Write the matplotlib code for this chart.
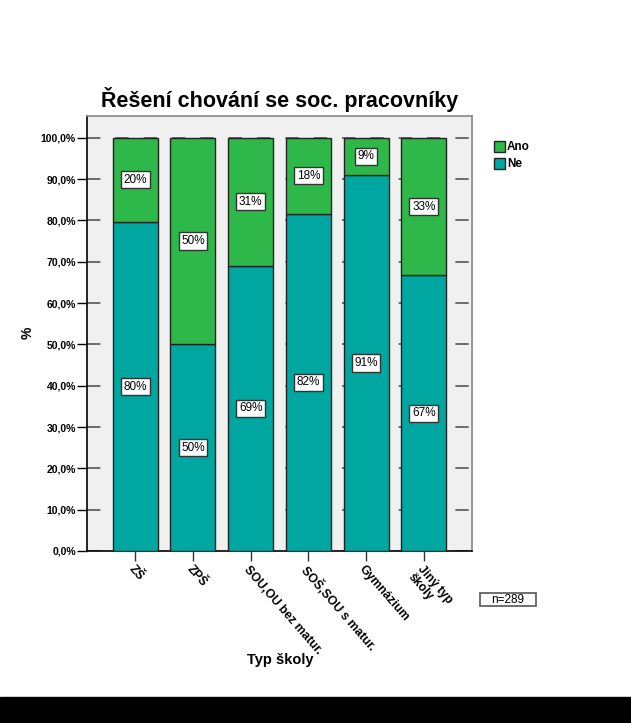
import matplotlib
matplotlib.use("Agg")
import matplotlib.pyplot as plt
from matplotlib.patches import Rectangle, Patch
import numpy as np

plt.rcParams['font.family'] = ['Liberation Sans', 'DejaVu Sans']

categories = ["ZŠ", "ZPŠ", "SOU,OU bez matur.", "SOŠ,SOU s matur.", "Gymnázium", "Jiný typ\nškoly"]
ne = [79.6, 50.0, 69.0, 81.6, 91.0, 66.7]
ano = [20.4, 50.0, 31.0, 18.4, 9.0, 33.3]
ne_labels = ["80%", "50%", "69%", "82%", "91%", "67%"]
ano_labels = ["20%", "50%", "31%", "18%", "9%", "33%"]
yticks = np.arange(0, 101, 10)
ytick_labels = [("%.1f%%" % v).replace(".", ",") for v in yticks]

green = "#2EB84A"
teal = "#00A6A0"

W, H = 631, 723
fig = plt.figure(figsize=(W / 100, H / 100), dpi=100)
fig.patch.set_facecolor("white")
fig.patches.append(Rectangle((0, 0), 1, 26 / H, transform=fig.transFigure, color="black", zorder=0))

ax = fig.add_axes([87 / W, 1 - 551 / H, (472 - 87) / W, (551 - 116) / H])
ax.set_facecolor("#F0F0F0")
x = np.arange(len(categories))
bw = 0.78
ax.bar(x, ne, width=bw, color=teal, edgecolor="#222222", linewidth=1, zorder=3)
ax.bar(x, ano, bottom=ne, width=bw, color=green, edgecolor="#222222", linewidth=1, zorder=3)

for yv in yticks:
    ax.axhline(yv, color="#555555", linestyle=(0, (8, 9)), linewidth=1.2, zorder=1)

box = dict(boxstyle="square,pad=0.22", facecolor="white", edgecolor="#333333", linewidth=1)
for i in range(len(categories)):
    ax.text(x[i], ne[i] / 2, ne_labels[i], ha="center", va="center", fontsize=8.5, bbox=box, zorder=5)
    ax.text(x[i], ne[i] + ano[i] / 2, ano_labels[i], ha="center", va="center", fontsize=8.5, bbox=box, zorder=5)

ax.set_xlim(-0.836, 5.836)
ax.set_ylim(0, 105.25)
ax.set_yticks(yticks)
ax.set_yticklabels(ytick_labels, fontsize=7.5, fontweight="bold")
ax.set_xticks(x)
ax.set_xticklabels(categories, fontsize=8.8, fontweight="bold", rotation=-49,
                   ha="left", va="top", rotation_mode="anchor", linespacing=1.0)
ax.tick_params(axis="y", length=7, width=1, direction="out", pad=1, color="black")
ax.tick_params(axis="x", length=7, width=1, direction="out", pad=2, color="#333333")

for side in ["top", "right"]:
    ax.spines[side].set_color("#888888")
    ax.spines[side].set_linewidth(1.2)
for side in ["left", "bottom"]:
    ax.spines[side].set_color("black")
    ax.spines[side].set_linewidth(1.2)

fig.text(280 / W, 1 - 99 / H, "Řešení chování se soc. pracovníky", ha="center", va="center",
         fontsize=15.5, fontweight="bold")
fig.text(28 / W, 1 - 333 / H, "%", ha="center", va="center", rotation=90, fontsize=10, fontweight="bold")
fig.text(280 / W, 1 - 660 / H, "Typ školy", ha="center", va="center", fontsize=10.5, fontweight="bold")

handles = [Patch(facecolor=green, edgecolor="#222222", label="Ano"),
           Patch(facecolor=teal, edgecolor="#222222", label="Ne")]
fig.legend(handles=handles, loc="upper left", bbox_to_anchor=(494 / W, 1 - 141 / H),
           frameon=False, prop={"weight": "bold", "size": 8.5}, handlelength=0.9,
           handleheight=1.0, handletextpad=0.2, labelspacing=0.4, borderpad=0, borderaxespad=0)

fig.patches.append(Rectangle((480 / W, 1 - 606 / H), 56 / W, 13 / H, transform=fig.transFigure,
                             facecolor="white", edgecolor="#555555", linewidth=1.2, zorder=2))
fig.text(508 / W, 1 - 600 / H, "n=289", ha="center", va="center", fontsize=8.5, zorder=3)

fig.savefig("out.png", dpi=100)
